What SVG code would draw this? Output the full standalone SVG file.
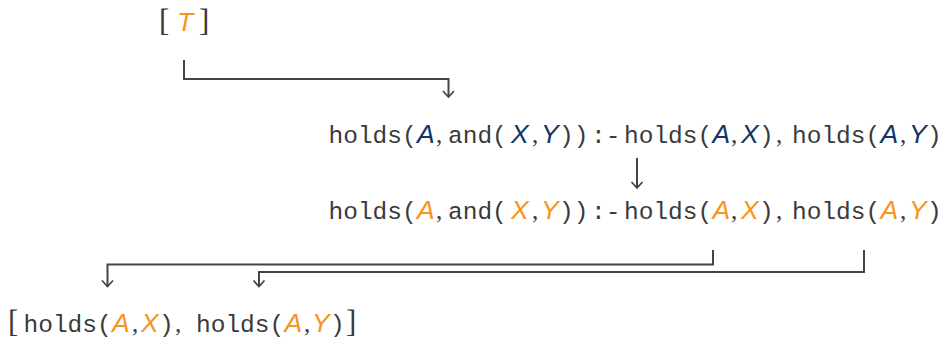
<svg xmlns="http://www.w3.org/2000/svg" width="948" height="340" viewBox="0 0 948 340">
<style>
.m{font-family:"Liberation Mono","DejaVu Sans Mono",monospace;font-size:24.5px;fill:#3a3a3a}
.v{font-family:"Liberation Sans","DejaVu Sans",sans-serif;font-style:italic;font-size:26.5px}
.c{font-family:"Liberation Serif","DejaVu Serif",serif;font-size:25px;fill:#3a3a3a}
.s{font-family:"Liberation Serif","DejaVu Serif",serif;font-size:31px;fill:#3a3a3a}
.b{fill:#0f3668}
.o{fill:#f7941d}
.ln{fill:none;stroke:#444;stroke-width:2}
</style>
<defs>
<marker id="ah" viewBox="0 0 14 14" refX="12" refY="7" markerWidth="14" markerHeight="14" markerUnits="userSpaceOnUse" orient="auto">
<path d="M6,1.5 L12,7 L6,12.5" fill="none" stroke="#444" stroke-width="1.8"/>
</marker>
</defs>
<g id="goal">
<text y="31"><tspan class="s" x="159">[</tspan><tspan class="v o" x="177">T</tspan><tspan class="s" x="199">]</tspan></text>
</g>
<g id="clause">
<text y="143"><tspan class="m" x="328.5">holds(</tspan><tspan class="v b" x="417">A</tspan><tspan class="c" x="436">,</tspan><tspan class="m" x="448">and(</tspan><tspan class="v b" x="511">X</tspan><tspan class="c" x="532">,</tspan><tspan class="v b" x="541">Y</tspan><tspan class="m" x="559">))</tspan><tspan class="m" x="591">:-</tspan><tspan class="m" x="624">holds(</tspan><tspan class="v b" x="712.5">A</tspan><tspan class="c" x="731">,</tspan><tspan class="v b" x="741">X</tspan><tspan class="m" x="759">)</tspan><tspan class="c" x="776">,</tspan><tspan class="m" x="792">holds(</tspan><tspan class="v b" x="880.5">A</tspan><tspan class="c" x="900">,</tspan><tspan class="v b" x="909">Y</tspan><tspan class="m" x="927">)</tspan></text>
</g>
<g id="instance">
<text y="219"><tspan class="m" x="328.5">holds(</tspan><tspan class="v o" x="417">A</tspan><tspan class="c" x="436">,</tspan><tspan class="m" x="448">and(</tspan><tspan class="v o" x="511">X</tspan><tspan class="c" x="532">,</tspan><tspan class="v o" x="541">Y</tspan><tspan class="m" x="559">))</tspan><tspan class="m" x="591">:-</tspan><tspan class="m" x="624">holds(</tspan><tspan class="v o" x="712.5">A</tspan><tspan class="c" x="731">,</tspan><tspan class="v o" x="741">X</tspan><tspan class="m" x="759">)</tspan><tspan class="c" x="776">,</tspan><tspan class="m" x="792">holds(</tspan><tspan class="v o" x="880.5">A</tspan><tspan class="c" x="900">,</tspan><tspan class="v o" x="909">Y</tspan><tspan class="m" x="927">)</tspan></text>
</g>
<g id="subgoals">
<text y="332"><tspan class="s" x="8">[</tspan><tspan class="m" x="23.5">holds(</tspan><tspan class="v o" x="112">A</tspan><tspan class="c" x="132">,</tspan><tspan class="v o" x="141">X</tspan><tspan class="m" x="159">)</tspan><tspan class="c" x="175">,</tspan><tspan class="m" x="196">holds(</tspan><tspan class="v o" x="284.5">A</tspan><tspan class="c" x="304">,</tspan><tspan class="v o" x="312">Y</tspan><tspan class="m" x="330">)</tspan><tspan class="s" x="346">]</tspan></text>
</g>
<g id="connectors">
<path class="ln" d="M184,60 V79 H448.5 V97" marker-end="url(#ah)"/>
<path class="ln" d="M637,158 V188" marker-end="url(#ah)"/>
<path class="ln" d="M713,250 V264.5 H107.5 V286.5" marker-end="url(#ah)"/>
<path class="ln" d="M864,250 V272 H259 V286.5" marker-end="url(#ah)"/>
</g>
</svg>
